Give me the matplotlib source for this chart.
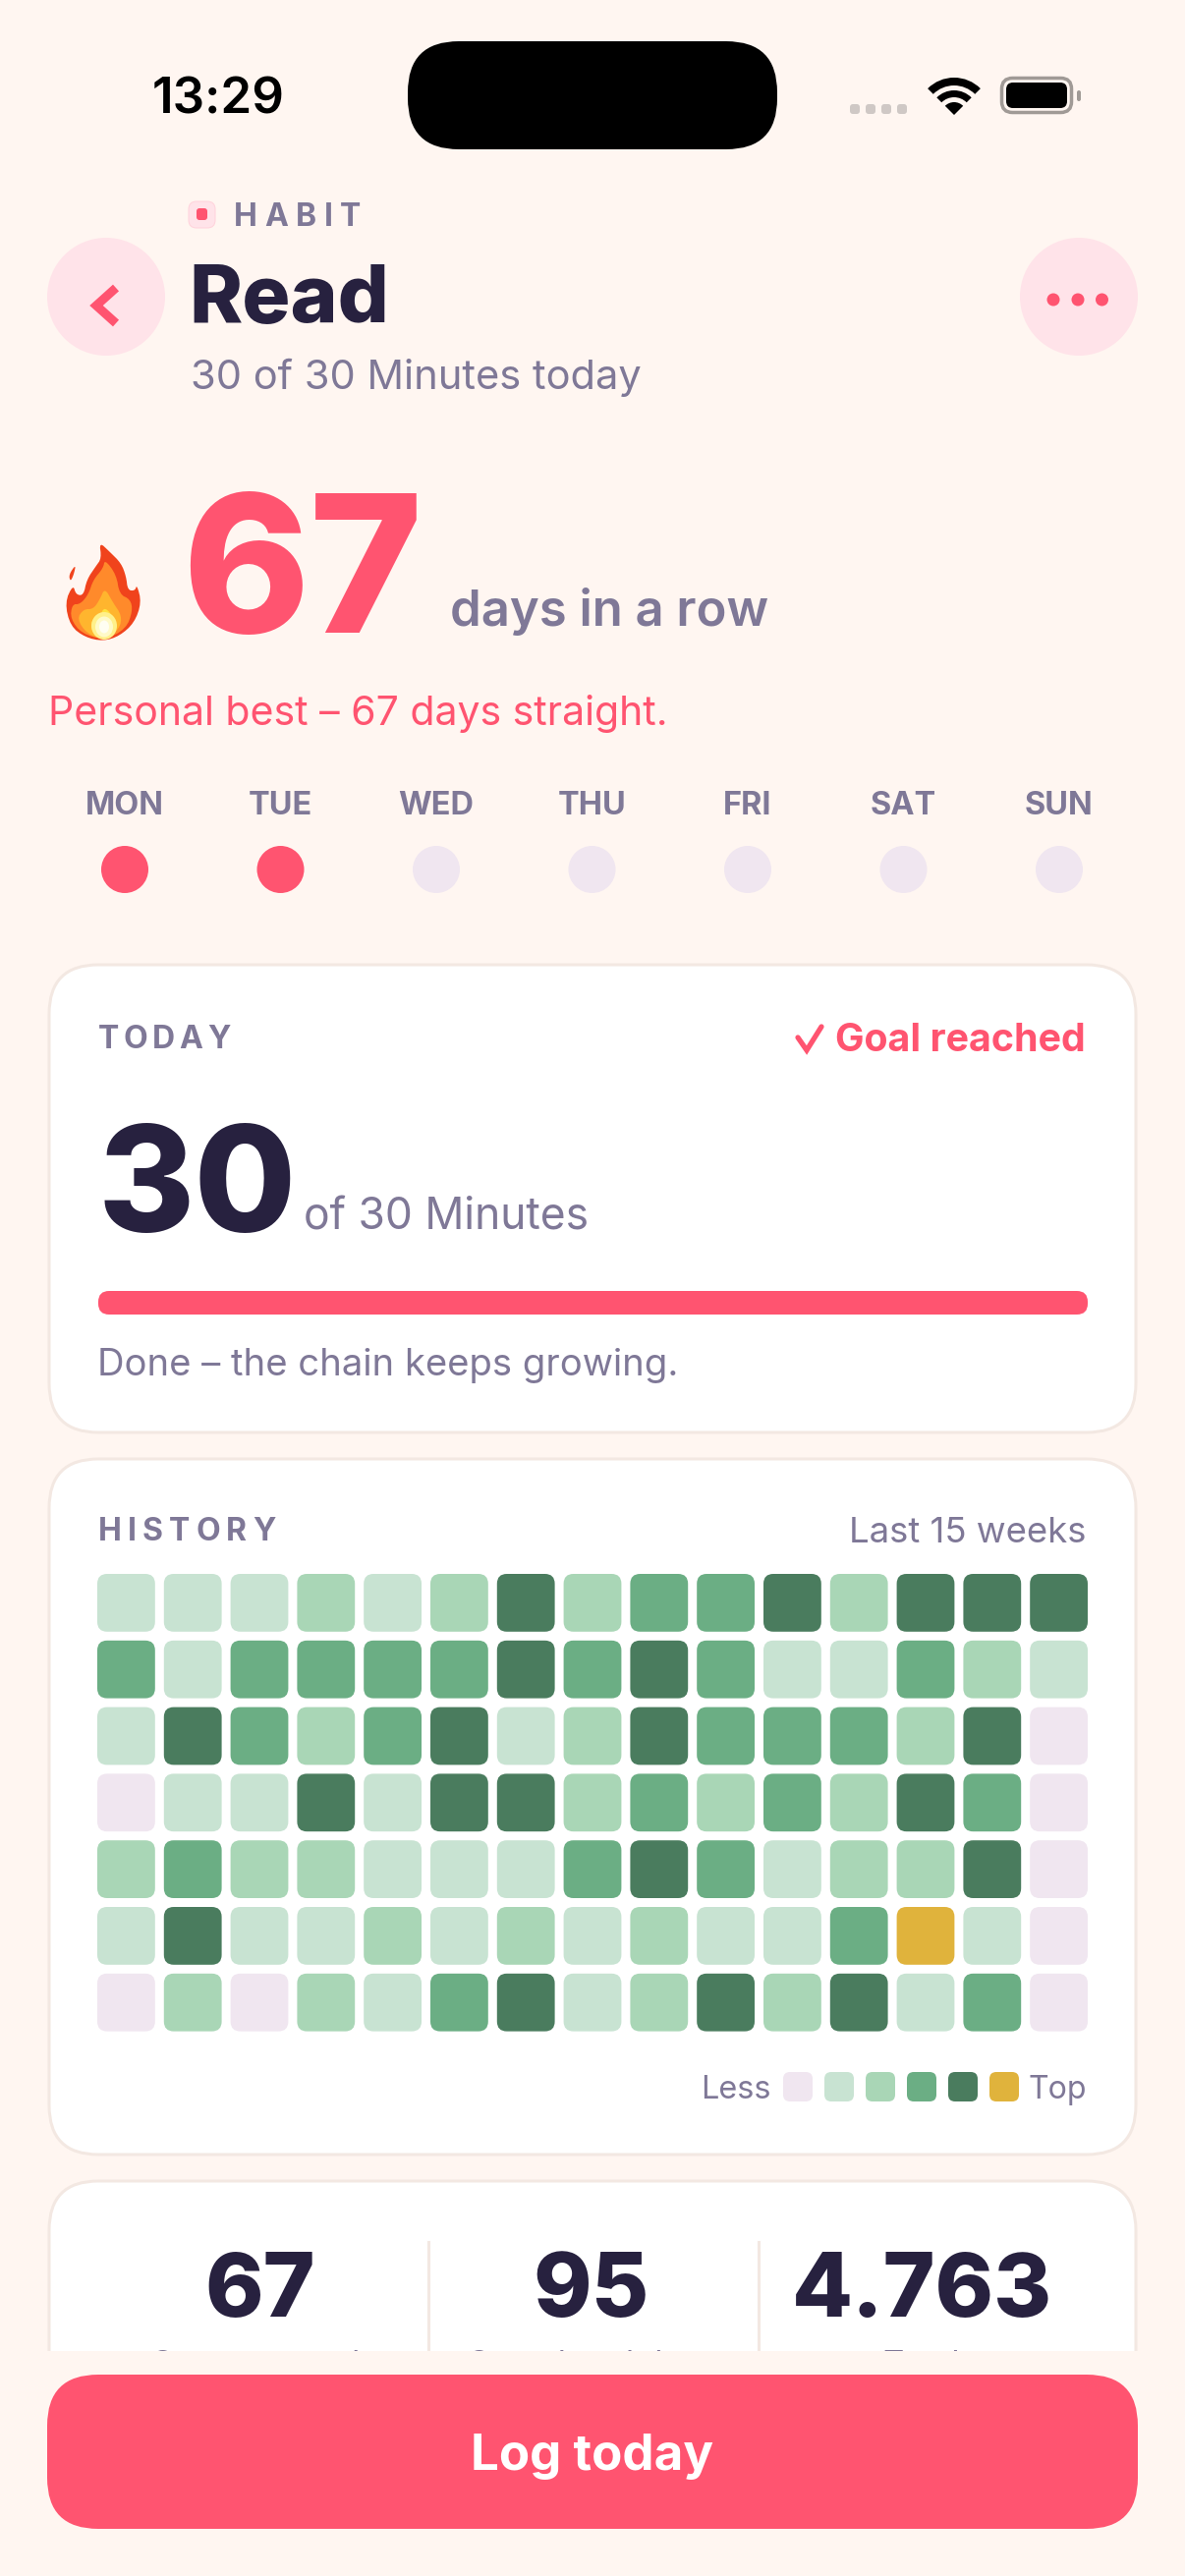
"""Habit detail screen: Read, 67 day streak, 15 week history grid."""

import matplotlib
matplotlib.use('Agg')
import matplotlib.pyplot as plt
import numpy as np
from matplotlib.font_manager import FontProperties
from matplotlib.patches import Circle, Ellipse, FancyBboxPatch, Polygon, Wedge

W, H = 1206, 2622
DPI = 100

# data
WEEKDAYS = ['MON', 'TUE', 'WED', 'THU', 'FRI', 'SAT', 'SUN']
DAY_DONE = [1, 1, 0, 0, 0, 0, 0]
HISTORY = [
    [1, 1, 1, 2, 1, 2, 4, 2, 3, 3, 4, 2, 4, 4, 4],
    [3, 1, 3, 3, 3, 3, 4, 3, 4, 3, 1, 1, 3, 2, 1],
    [1, 4, 3, 2, 3, 4, 1, 2, 4, 3, 3, 3, 2, 4, 0],
    [0, 1, 1, 4, 1, 4, 4, 2, 3, 2, 3, 2, 4, 3, 0],
    [2, 3, 2, 2, 1, 1, 1, 3, 4, 3, 1, 2, 2, 4, 0],
    [1, 4, 1, 1, 2, 1, 2, 1, 2, 1, 1, 3, 5, 1, 0],
    [0, 2, 0, 2, 1, 3, 4, 1, 2, 4, 2, 4, 1, 3, 0],
]
LEVELS = [0, 1, 2, 3, 4, 5]
STAT_VALUES = ['67', '95', '4.763']
STAT_LABELS = ['Current streak', 'Completed days', 'Total']

# colours
BG = '#FFF6F1'
CORAL = '#FF5470'
PINK = '#FFE3E9'
INK = '#27213F'
MUTED = '#7F7897'
BORDER = '#F3E8E2'
DAY_OFF = '#F0E6F0'
LEVEL_COLOURS = ['#F0E6F0', '#C8E3D2', '#A9D6B6', '#6BAE84', '#4A7C5E', '#E0B33C']

fig = plt.figure(figsize=(W / DPI, H / DPI), dpi=DPI, facecolor=BG)
ax = fig.add_axes([0, 0, 1, 1])
ax.set_xlim(0, W)
ax.set_ylim(H, 0)
ax.axis('off')
renderer = fig.canvas.get_renderer()


def box(x0, y0, x1, y1, r, fc, ec='none', lw=0, z=2):
    p = FancyBboxPatch((x0, y0), x1 - x0, y1 - y0,
                       boxstyle=f'round,pad=0,rounding_size={r}',
                       fc=fc, ec=ec, lw=lw * 0.72, zorder=z)
    ax.add_patch(p)
    return p


def txt(x, y, s, px, color, weight='normal', ha='left', family='Inter',
        tracking=0, z=5):
    """Text on a baseline, sizes in pixels; tracking adds letter spacing."""
    size = px * 72 / DPI
    if not tracking:
        return ax.text(x, y, s, fontsize=size, color=color, fontweight=weight,
                       family=family, ha=ha, va='baseline', zorder=z)
    prop = FontProperties(family=family, weight=weight, size=size)
    for i, ch in enumerate(s):
        w = renderer.get_text_width_height_descent(s[:i], prop, False)[0] if i else 0
        ax.text(x + w + i * tracking, y, ch, fontsize=size, color=color,
                fontweight=weight, family=family, ha='left', va='baseline',
                zorder=z)


def smooth(points, rounds=2):
    pts = np.array(points, dtype=float)
    for _ in range(rounds):
        nxt = np.roll(pts, -1, axis=0)
        pts = np.column_stack([0.75 * pts + 0.25 * nxt,
                               0.25 * pts + 0.75 * nxt]).reshape(-1, 2)
    return pts


def flame(points, color, z=4):
    pts = smooth(points) / 3 + [40, 530]
    ax.add_patch(Polygon(pts, closed=True, fc=color, ec='none', zorder=z))


# status bar
txt(155, 115, '13:29', 51, 'black', weight='semibold')
box(415, 42, 791, 152, 52, 'black')
for i in range(4):
    box(865 + i * 16, 106, 875 + i * 16, 116, 3, '#CFC8C5')
for r, width in [(38, 8), (25, 7), (13, 13)]:
    ax.add_patch(Wedge((971, 117), r, -135, -45, width=width, fc='black', ec='none', zorder=3))
box(1019.5, 79.5, 1090.5, 114.5, 11, 'none', ec='#A09A96', lw=3.5)
box(1024, 84, 1086, 110, 7, 'black')
box(1096, 92, 1100, 103, 2, '#A09A96')

# header
box(192, 205, 219, 232, 8, PINK, ec='#FFD3DC', lw=1)
box(200, 212, 211, 224, 3, CORAL)
txt(238, 230, 'HABIT', 32, MUTED, weight='bold', tracking=7.5)
ax.add_patch(Circle((108, 302), 60, fc=PINK, ec='none', zorder=2))
ax.plot([118, 98, 118], [293, 311, 329], color=CORAL, lw=6.5, zorder=3,
        solid_joinstyle='miter', solid_capstyle='butt')
txt(192, 328, 'Read', 82, INK, weight='extra bold')
txt(193.5, 396, '30 of 30 Minutes today', 41.6, MUTED)
ax.add_patch(Circle((1098, 302), 60, fc=PINK, ec='none', zorder=2))
for cx in (1072, 1097, 1121.5):
    ax.add_patch(Circle((cx, 305), 6.5, fc=CORAL, ec='none', zorder=3))

# streak block
flame([(183, 65), (215, 95), (250, 130), (265, 170), (270, 212), (292, 214), (298, 195),
       (312, 250), (290, 312), (245, 352), (195, 368), (140, 356), (95, 322),
       (78, 250), (103, 195), (112, 226), (135, 228), (145, 180), (172, 140), (190, 115)],
      '#F0431C')
flame([(112, 133), (105, 165), (95, 186), (90, 165)], '#F0431C')
flame([(200, 118), (235, 165), (245, 225), (278, 240), (285, 275), (265, 330),
       (200, 364), (130, 345), (95, 300), (100, 255), (125, 255), (150, 225),
       (165, 180), (195, 145)], '#FF8A2B', z=4.1)
flame([(200, 205), (225, 250), (252, 290), (245, 330), (200, 365), (145, 345),
       (115, 300), (135, 270), (165, 270), (185, 240)], '#FFB52E', z=4.2)
flame([(200, 262), (230, 300), (237, 335), (200, 365), (160, 340), (158, 305),
       (185, 290)], '#FFE23F', z=4.3)
ax.add_patch(Ellipse((106, 637), 26, 28, fc='#FFF08A', ec='none', zorder=4.4))
ax.add_patch(Ellipse((106, 638), 18, 21, fc='#FFFAC8', ec='none', zorder=4.5))
ax.add_patch(Ellipse((106, 638), 10, 13, fc='#FFFEF2', ec='none', zorder=4.6))

txt(185, 644, '67', 196, CORAL, weight='extra bold')
txt(458, 637, 'days in a row', 50.8, MUTED, weight='semibold')
txt(49, 738, 'Personal best \u2013 67 days straight.', 41, CORAL)

# week strip
for i, (day, done) in enumerate(zip(WEEKDAYS, DAY_DONE)):
    cx = 127 + i * 158.5
    txt(cx, 829, day, 32.5, MUTED, weight='bold', ha='center')
    ax.add_patch(Circle((cx, 885), 24, fc=CORAL if done else DAY_OFF, ec='none', zorder=3))

# today card
box(50, 982, 1156, 1458, 50, 'white', ec=BORDER, lw=3)
txt(100, 1067, 'TODAY', 32, MUTED, weight='bold', tracking=4.5)
ax.plot([812, 821, 836], [1056, 1069, 1045], color=CORAL, lw=3.8, zorder=5,
        solid_joinstyle='miter', solid_capstyle='round')
txt(1105, 1070, 'Goal reached', 39.4, CORAL, weight='bold', ha='right')
txt(100, 1254, '30', 150, INK, weight='extra bold')
txt(309, 1251, 'of 30 Minutes', 44.4, MUTED)
box(100, 1314, 1107, 1338, 11, CORAL)
txt(99, 1400, 'Done \u2013 the chain keeps growing.', 38.2, MUTED)

# history card
box(50, 1485, 1156, 2193, 50, 'white', ec=BORDER, lw=3)
txt(100, 1568, 'HISTORY', 32, MUTED, weight='bold', tracking=6)
txt(1106, 1570, 'Last 15 weeks', 36.5, MUTED, ha='right')
for r, row in enumerate(HISTORY):
    for c, level in enumerate(row):
        x0 = 99 + c * 67.8
        y0 = 1602 + r * 67.8
        box(x0, y0, x0 + 58.8, y0 + 58.8, 10, LEVEL_COLOURS[level])
txt(785, 2136, 'Less', 32.5, MUTED, ha='right')
for i in LEVELS:
    x0 = 797 + i * 42
    box(x0, 2109, x0 + 30, 2139, 7, LEVEL_COLOURS[i])
txt(1106, 2136, 'Top', 32, MUTED, ha='right')

# stats card, cut off by the footer
box(50, 2220, 1156, 2520, 50, 'white', ec=BORDER, lw=3)
for x in (436, 772):
    ax.plot([x, x], [2282, 2400], color=BORDER, lw=2.2, zorder=3)
for cx, value, label in zip((265, 602, 938), STAT_VALUES, STAT_LABELS):
    txt(cx, 2358, value, 90, INK, weight='extra bold', ha='center')
    txt(cx, 2416, label, 33, MUTED, ha='center')

# footer
ax.add_patch(plt.Rectangle((0, 2393), W, H - 2393, fc=BG, ec='none', zorder=6))
box(48, 2417, 1158, 2574, 52, CORAL, z=7)
txt(603, 2514, 'Log today', 51, 'white', weight='bold', ha='center', z=8)

fig.savefig('out.png', dpi=DPI, facecolor=BG)
